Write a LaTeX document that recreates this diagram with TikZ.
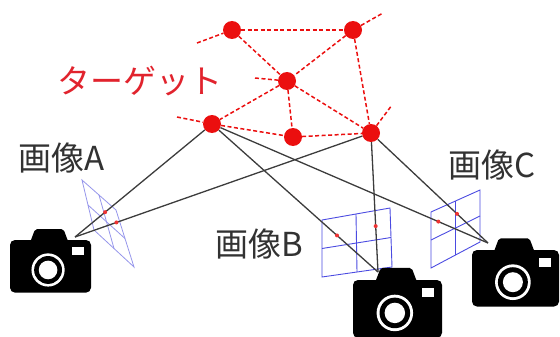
\documentclass[tikz,border=0pt]{standalone}
\usepackage{fontspec}
\newfontfamily\jpfont{Noto Sans CJK JP}
\usetikzlibrary{calc}

\definecolor{tgtred}{RGB}{235,15,15}
\definecolor{labelred}{RGB}{225,35,45}
\definecolor{lblgray}{RGB}{50,50,50}
\definecolor{rayline}{RGB}{60,60,60}
\definecolor{gridblue}{RGB}{75,75,225}
\definecolor{gridpale}{RGB}{150,150,235}

% camera icon: #1,#2 = top-left corner of the body, #3 = body width
\newcommand{\cameraicon}[3]{%
  \begin{scope}[shift={(#1,#2)}, scale=#3]
    \fill[black, rounded corners=5pt] (0,0) rectangle (1,0.65);
    \fill[black, rounded corners=2pt] (0.24,0.05) -- (0.31,-0.135) -- (0.66,-0.135) -- (0.73,0.05) -- cycle;
    \fill[white] (0.47,0.37) circle (0.205);
    \fill[black] (0.47,0.37) circle (0.172);
    \fill[white] (0.47,0.37) circle (0.115);
    \fill[white] (0.77,0.09) rectangle (0.91,0.19);
  \end{scope}}

% image plane: 2x2 grid spanned by four corners
\newcommand{\imageplane}[5]{%
  \draw[#5] (#1) -- (#2) -- (#3) -- (#4) -- cycle;
  \draw[#5] ($(#1)!.5!(#2)$) -- ($(#4)!.5!(#3)$);
  \draw[#5] ($(#1)!.5!(#4)$) -- ($(#2)!.5!(#3)$);}

\tikzset{
  target/.style={circle, fill=tgtred, minimum size=18pt, inner sep=0pt},
  link/.style={tgtred, line width=1.5pt, dash pattern=on 4pt off 2.5pt},
  ray/.style={rayline, line width=1.3pt},
  plane/.style={gridblue, line width=0.9pt},
  paleplane/.style={gridpale, line width=0.8pt},
  hit/.style={circle, fill=tgtred!85, minimum size=4pt, inner sep=0pt},
  lbl/.style={font=\jpfont\fontsize{33}{33}\selectfont, text=lblgray, inner sep=0pt},
}

\begin{document}
\begin{tikzpicture}[x=1pt, y=-1pt]
\useasboundingbox (0,0) rectangle (560,337);

% target points
\node[target] (n1) at (232,30) {};
\node[target] (n2) at (353,30) {};
\node[target] (n3) at (287,81) {};
\node[target] (n4) at (212,124) {};
\node[target] (n5) at (293,137) {};
\node[target] (n6) at (371,133) {};

% open ends of the target network
\coordinate (s1) at (197,43);
\coordinate (s2) at (383,13);
\coordinate (s3) at (255,78);
\coordinate (s4) at (177,117);
\coordinate (s6) at (392,105);

% camera centres
\coordinate (camA) at (75,237);
\coordinate (camB) at (378,272);
\coordinate (camC) at (488,243);

% image planes
\coordinate (a1) at (82,180);
\coordinate (a2) at (116,210);
\coordinate (a3) at (134,267);
\coordinate (a4) at (94,230);
\imageplane{a1}{a2}{a3}{a4}{paleplane}

\coordinate (b1) at (322,220);
\coordinate (b2) at (390,208);
\coordinate (b3) at (392,267);
\coordinate (b4) at (322,277);
\imageplane{b1}{b2}{b3}{b4}{plane}

\coordinate (c1) at (431,212);
\coordinate (c2) at (480,190);
\coordinate (c3) at (480,242);
\coordinate (c4) at (431,268);
\imageplane{c1}{c2}{c3}{c4}{plane}

% projection rays
\draw[ray] (n4) -- (camA);
\draw[ray] (n6) -- (camA);
\draw[ray] (n4) -- (camB);
\draw[ray] (n6) -- (camB);
\draw[ray] (n4) -- (camC);
\draw[ray] (n6) -- (camC);

% projected points on the image planes
\node[hit] (pa4) at ($(camA)!0.22!(n4)$) {};
\node[hit] (pa6) at ($(camA)!0.14!(n6)$) {};
\node[hit] (pb4) at ($(camB)!0.247!(n4)$) {};
\node[hit] (pb6) at ($(camB)!0.33!(n6)$) {};
\node[hit] (pc4) at ($(camC)!0.18!(n4)$) {};
\node[hit] (pc6) at ($(camC)!0.265!(n6)$) {};

% target network
\draw[link] (s1) -- (n1);
\draw[link] (n1) -- (n2);
\draw[link] (n2) -- (s2);
\draw[link] (n1) -- (n3);
\draw[link] (n2) -- (n3);
\draw[link] (s3) -- (n3);
\draw[link] (n3) -- (n4);
\draw[link] (n3) -- (n5);
\draw[link] (n3) -- (n6);
\draw[link] (n2) -- (n6);
\draw[link] (s4) -- (n4);
\draw[link] (n4) -- (n5);
\draw[link] (n5) -- (n6);
\draw[link] (n6) -- (s6);

% cameras
\cameraicon{10}{240}{81}
\cameraicon{353}{280}{89}
\cameraicon{472}{250}{87}

% labels
\node[lbl, text=labelred] (tlabel) at (140,81) {ターゲット};
\node[lbl] (labA) at (62,158) {画像A};
\node[lbl] (labB) at (259,244) {画像B};
\node[lbl] (labC) at (492,165) {画像C};
\end{tikzpicture}
\end{document}
